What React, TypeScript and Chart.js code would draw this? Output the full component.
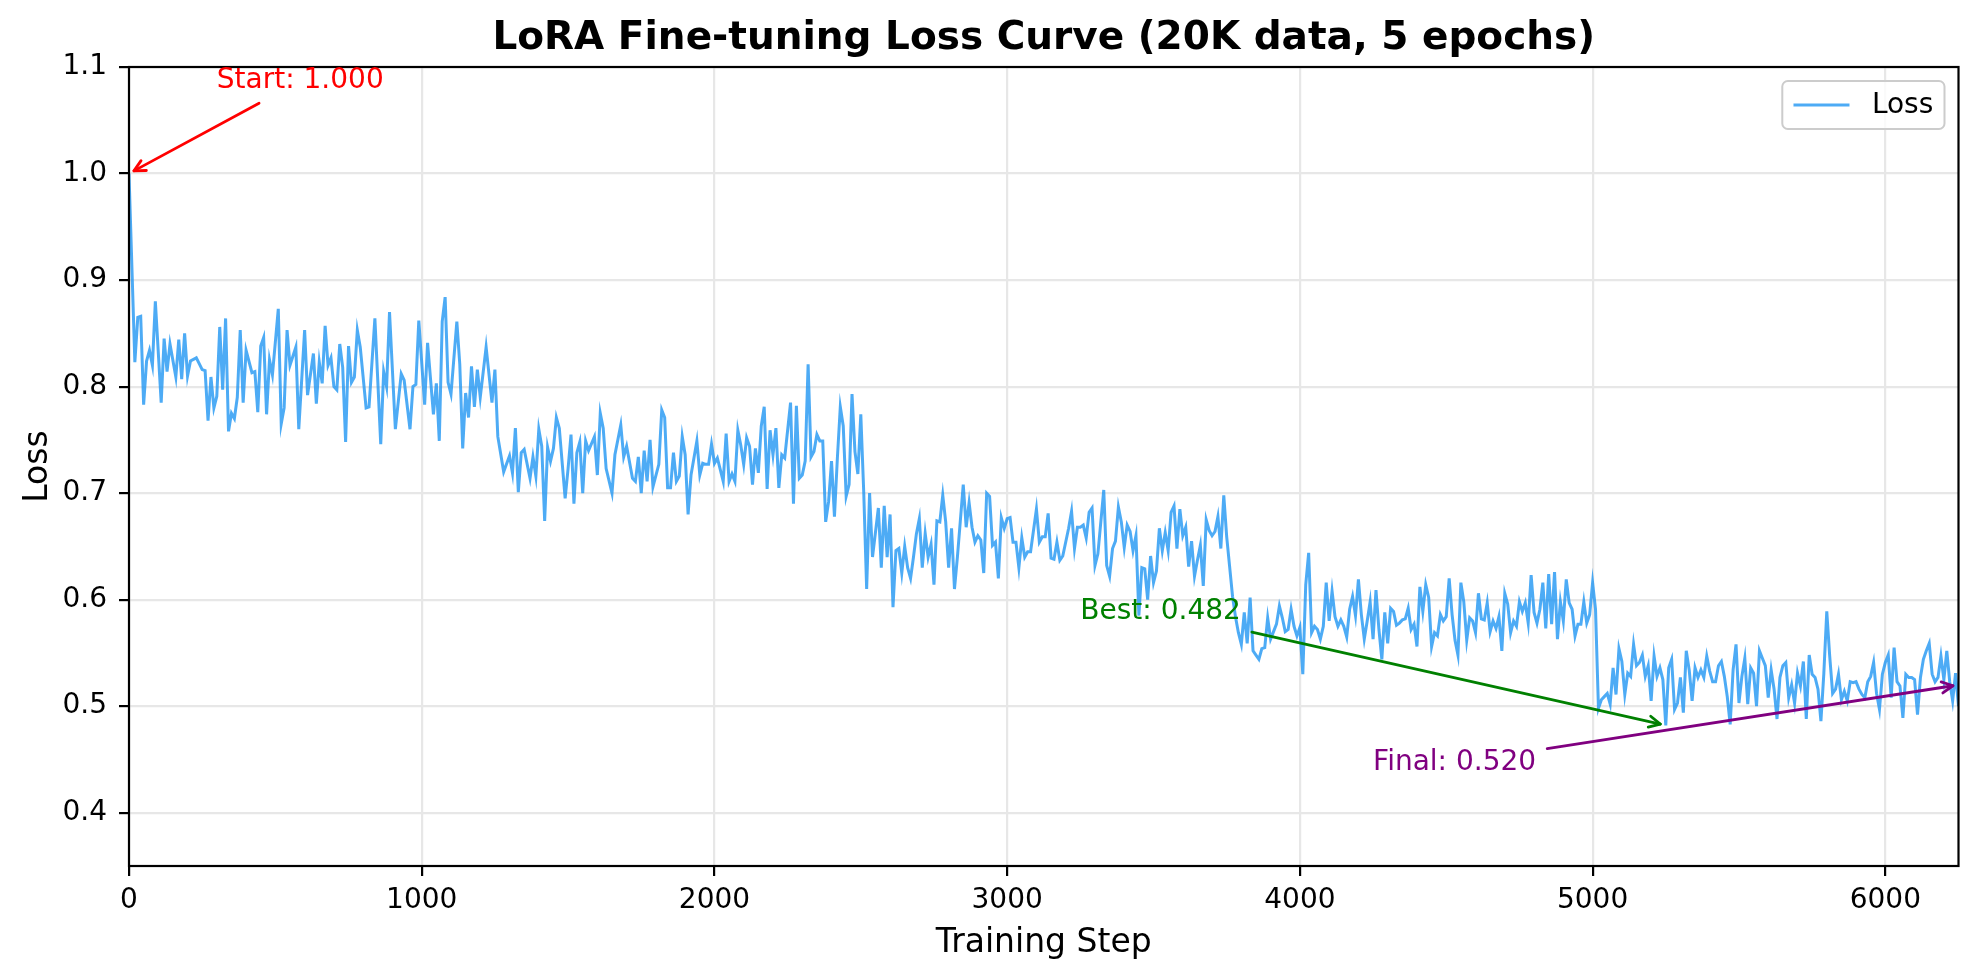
import { useEffect, useRef } from "react";
import { Chart, registerables } from "chart.js";

Chart.register(...registerables);

const FONT = '"DejaVu Sans"';
Chart.defaults.font.family = FONT;
Chart.defaults.color = "#000";

const TITLE = "LoRA Fine-tuning Loss Curve (20K data, 5 epochs)";
const X_LABEL = "Training Step";
const Y_LABEL = "Loss";
const SERIES_LABEL = "Loss";

const X_TICKS = [0, 1000, 2000, 3000, 4000, 5000, 6000];
const Y_TICKS = [0.4, 0.5, 0.6, 0.7, 0.8, 0.9, 1.0, 1.1];

// training steps
const STEPS = [
  0, 20, 30, 40, 50, 60, 70, 80, 90, 110,
  120, 130, 140, 160, 170, 180, 190, 200, 210, 230,
  250, 260, 270, 280, 290, 300, 310, 320, 330, 340,
  350, 360, 370, 380, 390, 400, 420, 430, 440, 450,
  460, 470, 480, 490, 510, 520, 530, 540, 550, 570,
  580, 600, 610, 630, 640, 650, 660, 670, 680, 690,
  700, 710, 720, 730, 740, 750, 760, 770, 780, 790,
  810, 820, 840, 860, 870, 880, 890, 910, 930, 940,
  960, 970, 980, 990,
  1010, 1020, 1040, 1050, 1060, 1070, 1080, 1090, 1100, 1120,
  1130, 1140, 1150, 1160, 1170, 1180, 1190, 1200, 1220, 1240,
  1250, 1260, 1280, 1300, 1310, 1320, 1330, 1340, 1350, 1370,
  1380, 1390, 1400, 1410, 1420, 1430, 1440, 1450, 1460, 1470,
  1490, 1500, 1510, 1520, 1530, 1540, 1550, 1560, 1570, 1590,
  1600, 1610, 1620, 1630, 1650, 1660, 1680, 1690, 1700, 1720,
  1730, 1740, 1750, 1760, 1770, 1780, 1790, 1810, 1820, 1830,
  1840, 1850, 1860, 1870, 1880, 1890, 1900, 1910, 1920, 1930,
  1940, 1950, 1960, 1970, 1980, 1990, 2000, 2010, 2030, 2040,
  2050, 2060,
  2070, 2080, 2090, 2100, 2110, 2120, 2130, 2140, 2150, 2160,
  2170, 2180, 2190, 2200, 2210, 2220, 2230, 2240, 2260, 2270,
  2280, 2290, 2300, 2310, 2320, 2330, 2340, 2350, 2360, 2370,
  2380, 2390, 2400, 2410, 2420, 2430, 2440, 2450, 2460, 2470,
  2480, 2490, 2500, 2510, 2520, 2530, 2540, 2560, 2570, 2580,
  2590, 2600, 2610, 2620, 2630, 2640, 2650, 2660, 2670, 2680,
  2690, 2700, 2710, 2720, 2730, 2740, 2750, 2760, 2770, 2780,
  2790, 2800, 2810, 2820, 2830, 2850, 2860, 2870, 2880, 2890,
  2900, 2910, 2920, 2930, 2940, 2950, 2960, 2970, 2980, 2990,
  3000, 3010, 3020, 3030, 3040, 3050, 3060, 3070, 3080, 3100,
  3110, 3120, 3130,
  3140, 3150, 3160, 3170, 3180, 3190, 3210, 3220, 3230, 3240,
  3250, 3260, 3270, 3280, 3290, 3300, 3310, 3330, 3340, 3350,
  3360, 3370, 3380, 3390, 3400, 3410, 3420, 3430, 3440, 3450,
  3460, 3470, 3480, 3490, 3500, 3510, 3520, 3530, 3540, 3550,
  3560, 3570, 3580, 3590, 3600, 3610, 3620, 3630, 3640, 3650,
  3660, 3670, 3680, 3690, 3700, 3710, 3720, 3730, 3740, 3750,
  3760,
  3770, 3780, 3790, 3800, 3810, 3820, 3830, 3840, 3850, 3860,
  3870, 3880, 3890, 3900, 3910, 3920, 3930, 3940, 3950, 3960,
  3970, 3980, 3990, 4000, 4010, 4020, 4030, 4040, 4050, 4060,
  4070, 4080, 4090, 4100, 4110, 4120, 4130, 4140, 4150, 4160,
  4170, 4180, 4190, 4200, 4210, 4220, 4230, 4240, 4250, 4260,
  4270, 4280, 4290, 4300, 4310, 4320, 4330, 4340, 4350, 4360,
  4370, 4380, 4390, 4400, 4410, 4420, 4430, 4440, 4450, 4460,
  4470, 4480, 4490, 4500, 4510, 4520, 4530, 4540, 4550, 4560,
  4570, 4580, 4590, 4600, 4610, 4620, 4630, 4640, 4650, 4660,
  4670, 4680, 4690, 4700, 4710, 4720, 4730, 4740, 4750, 4760,
  4770, 4780, 4790, 4800, 4810, 4820, 4830, 4840, 4850, 4860,
  4870, 4880, 4890, 4900, 4910, 4920, 4930, 4940, 4950, 4960,
  4970, 4980, 4990, 5000, 5010, 5020, 5030, 5040, 5050, 5060,
  5070, 5080, 5090, 5100, 5110, 5120, 5130, 5140, 5150, 5160,
  5170, 5180, 5190, 5200, 5210, 5220, 5230, 5240, 5250, 5260,
  5270, 5280, 5290, 5300, 5310, 5320, 5330, 5340, 5350, 5360,
  5370, 5380, 5390, 5400, 5410, 5420, 5430, 5440, 5450, 5460,
  5470, 5480, 5490, 5500, 5510, 5520, 5530, 5540, 5550, 5560,
  5570, 5580, 5590, 5600, 5610, 5620, 5630, 5640, 5650, 5660,
  5670, 5680, 5690, 5700, 5710, 5720, 5730, 5740, 5750, 5760,
  5770, 5780, 5790, 5800, 5810, 5820, 5830, 5840, 5850, 5860,
  5870, 5880, 5890, 5900, 5910, 5920, 5930, 5940, 5950, 5960,
  5970, 5980, 5990, 6000, 6010, 6020, 6030, 6040, 6050, 6060,
  6070, 6080, 6090, 6100, 6110, 6120, 6130, 6140, 6150, 6160,
  6170, 6180, 6190, 6200, 6210, 6220, 6230, 6240, 6250,
];

// loss at each step
const LOSS = [
  1.0, 0.823, 0.865, 0.866, 0.783, 0.824, 0.834, 0.82, 0.88, 0.785,
  0.845, 0.814, 0.84, 0.809, 0.844, 0.807, 0.85, 0.81, 0.824, 0.827,
  0.816, 0.815, 0.768, 0.809, 0.78, 0.791, 0.856, 0.797, 0.864, 0.758,
  0.775, 0.77, 0.79, 0.853, 0.785, 0.834, 0.813, 0.814, 0.776, 0.838,
  0.846, 0.774, 0.825, 0.811, 0.873, 0.765, 0.78, 0.853, 0.82, 0.837,
  0.76, 0.853, 0.792, 0.831, 0.784, 0.823, 0.803, 0.857, 0.82, 0.827,
  0.8, 0.797, 0.84, 0.818, 0.748, 0.838, 0.804, 0.809, 0.853, 0.837,
  0.78, 0.781, 0.864, 0.746, 0.814, 0.8, 0.87, 0.76, 0.812, 0.806,
  0.76, 0.8, 0.802, 0.862,
  0.783, 0.841, 0.774, 0.803, 0.749, 0.861, 0.884, 0.804, 0.793, 0.861,
  0.821, 0.742, 0.794, 0.771, 0.819, 0.781, 0.816, 0.79, 0.837, 0.785,
  0.816, 0.753, 0.72, 0.735, 0.719, 0.761, 0.701, 0.738, 0.741, 0.714,
  0.734, 0.716, 0.76, 0.744, 0.674, 0.743, 0.73, 0.742, 0.771, 0.761,
  0.695, 0.723, 0.755, 0.69, 0.738, 0.748, 0.7, 0.749, 0.74, 0.753,
  0.717, 0.775, 0.761, 0.723, 0.7, 0.736, 0.764, 0.734, 0.744, 0.714,
  0.711, 0.734, 0.7, 0.74, 0.711, 0.75, 0.706, 0.727, 0.778, 0.771,
  0.705, 0.705, 0.738, 0.711, 0.716, 0.753, 0.736, 0.68, 0.717, 0.733,
  0.749, 0.717, 0.728, 0.727, 0.727, 0.746, 0.728, 0.733, 0.711, 0.756,
  0.711, 0.718,
  0.711, 0.759, 0.745, 0.727, 0.752, 0.744, 0.708, 0.742, 0.719, 0.763,
  0.781, 0.704, 0.759, 0.736, 0.761, 0.705, 0.736, 0.733, 0.785, 0.69,
  0.782, 0.714, 0.717, 0.73, 0.821, 0.734, 0.739, 0.755, 0.749, 0.749,
  0.673, 0.692, 0.73, 0.678, 0.733, 0.781, 0.763, 0.697, 0.708, 0.793,
  0.739, 0.718, 0.774, 0.701, 0.61, 0.7, 0.64, 0.686, 0.63, 0.688,
  0.64, 0.68, 0.593, 0.646, 0.648, 0.625, 0.65, 0.63, 0.62, 0.64,
  0.662, 0.676, 0.63, 0.662, 0.64, 0.652, 0.614, 0.674, 0.673, 0.698,
  0.673, 0.63, 0.667, 0.61, 0.64, 0.708, 0.668, 0.691, 0.668, 0.654,
  0.66, 0.656, 0.625, 0.7, 0.697, 0.651, 0.654, 0.62, 0.677, 0.667,
  0.676, 0.677, 0.654, 0.654, 0.63, 0.658, 0.64, 0.645, 0.645, 0.685,
  0.654, 0.659, 0.659,
  0.681, 0.639, 0.638, 0.654, 0.637, 0.641, 0.667, 0.683, 0.648, 0.668,
  0.668, 0.67, 0.658, 0.682, 0.686, 0.632, 0.643, 0.703, 0.632, 0.622,
  0.648, 0.655, 0.687, 0.673, 0.649, 0.67, 0.664, 0.646, 0.66, 0.585,
  0.63, 0.629, 0.6, 0.641, 0.616, 0.627, 0.667, 0.646, 0.663, 0.646,
  0.682, 0.688, 0.648, 0.685, 0.66, 0.668, 0.631, 0.655, 0.622, 0.637,
  0.651, 0.613, 0.675, 0.665, 0.66, 0.664, 0.678, 0.648, 0.698, 0.659,
  0.631,
  0.603, 0.584, 0.569, 0.558, 0.588, 0.559, 0.602, 0.552, 0.548, 0.544,
  0.554, 0.555, 0.583, 0.563, 0.57, 0.577, 0.594, 0.583, 0.57, 0.572,
  0.591, 0.575, 0.566, 0.574, 0.53, 0.614, 0.644, 0.569, 0.575, 0.572,
  0.563, 0.575, 0.616, 0.58, 0.608, 0.584, 0.575, 0.581, 0.575, 0.565,
  0.591, 0.603, 0.585, 0.619, 0.586, 0.563, 0.58, 0.598, 0.563, 0.609,
  0.572, 0.544, 0.588, 0.559, 0.592, 0.589, 0.576, 0.578, 0.581, 0.582,
  0.592, 0.572, 0.577, 0.556, 0.612, 0.589, 0.614, 0.602, 0.556, 0.569,
  0.566, 0.586, 0.58, 0.584, 0.62, 0.586, 0.562, 0.548, 0.616, 0.598,
  0.562, 0.583, 0.58, 0.569, 0.606, 0.582, 0.581, 0.597, 0.57, 0.58,
  0.573, 0.584, 0.552, 0.606, 0.596, 0.569, 0.58, 0.575, 0.598, 0.589,
  0.597, 0.578, 0.623, 0.588, 0.578, 0.591, 0.616, 0.573, 0.624, 0.577,
  0.626, 0.563, 0.598, 0.58, 0.619, 0.597, 0.591, 0.566, 0.577, 0.577,
  0.598, 0.578, 0.586, 0.616, 0.591, 0.498, 0.506, 0.509, 0.512, 0.502,
  0.536, 0.511, 0.554, 0.542, 0.511, 0.531, 0.528, 0.558, 0.538, 0.541,
  0.548, 0.528, 0.538, 0.505, 0.547, 0.528, 0.536, 0.525, 0.482, 0.536,
  0.544, 0.497, 0.503, 0.527, 0.494, 0.552, 0.534, 0.505, 0.536, 0.527,
  0.534, 0.527, 0.547, 0.533, 0.523, 0.523, 0.538, 0.542, 0.528, 0.509,
  0.483, 0.534, 0.558, 0.503, 0.528, 0.545, 0.502, 0.536, 0.531, 0.5,
  0.552, 0.545, 0.538, 0.508, 0.534, 0.516, 0.488, 0.527, 0.538, 0.541,
  0.508, 0.52, 0.503, 0.531, 0.519, 0.542, 0.488, 0.548, 0.53, 0.527,
  0.516, 0.486, 0.531, 0.589, 0.547, 0.512, 0.516, 0.53, 0.506, 0.514,
  0.505, 0.523, 0.522, 0.523, 0.516, 0.511, 0.508, 0.523, 0.528, 0.541,
  0.512, 0.497, 0.53, 0.541, 0.548, 0.508, 0.555, 0.523, 0.519, 0.489,
  0.53, 0.527, 0.527, 0.525, 0.492, 0.527, 0.544, 0.552, 0.559, 0.53,
  0.523, 0.527, 0.547, 0.525, 0.552, 0.523, 0.505, 0.531, 0.5,
];

// annotations: label, point (step, loss), text anchor (step, loss), colour
const NOTE_LABELS = ["Start: 1.000", "Best: 0.482", "Final: 0.520"];
const NOTE_POINTS = [[0, 1.0], [5250, 0.482], [6250, 0.52]];
const NOTE_TEXT_AT = [[300, 1.08], [3250, 0.582], [4250, 0.44]];
const NOTE_COLORS = ["#ff0000", "#008000", "#800080"];

const LINE_COLOR = "rgba(33, 150, 243, 0.8)";
const GRID_COLOR = "#e7e7e7";
const FS = 28;

function drawArrow(ctx: CanvasRenderingContext2D, sx: number, sy: number, ex: number, ey: number) {
  const len = Math.hypot(ex - sx, ey - sy);
  const ux = (ex - sx) / len;
  const uy = (ey - sy) / len;
  const hl = 11.1;
  const hw = 5.6;
  ctx.beginPath();
  ctx.moveTo(sx, sy);
  ctx.lineTo(ex, ey);
  ctx.stroke();
  ctx.beginPath();
  ctx.moveTo(ex - ux * hl - uy * hw, ey - uy * hl + ux * hw);
  ctx.lineTo(ex, ey);
  ctx.lineTo(ex - ux * hl + uy * hw, ey - uy * hl - ux * hw);
  ctx.stroke();
}

const framePlugin = {
  id: "frame",
  afterDatasetsDraw(chart: any) {
    const { ctx, chartArea: a } = chart;
    ctx.save();
    ctx.strokeStyle = "#000";
    ctx.lineWidth = 2.2;
    ctx.strokeRect(a.left, a.top, a.right - a.left, a.bottom - a.top);
    ctx.restore();
  },
};

// title centred over the plot area, as matplotlib does
const titlePlugin = {
  id: "axTitle",
  afterDraw(chart: any) {
    const { ctx, chartArea: a } = chart;
    ctx.save();
    ctx.font = `bold 39px ${FONT}`;
    ctx.fillStyle = "#000";
    ctx.textAlign = "center";
    ctx.textBaseline = "middle";
    ctx.fillText(TITLE, (a.left + a.right) / 2, a.top - 28);
    ctx.restore();
  },
};

const notesPlugin = {
  id: "notes",
  afterDraw(chart: any) {
    const { ctx } = chart;
    const xs = chart.scales.x;
    const ys = chart.scales.y;
    ctx.save();
    ctx.font = `${FS}px ${FONT}`;
    ctx.lineWidth = 2.8;
    ctx.lineCap = "round";
    ctx.lineJoin = "round";
    NOTE_LABELS.forEach((label, i) => {
      const px = xs.getPixelForValue(NOTE_POINTS[i][0]);
      const py = ys.getPixelForValue(NOTE_POINTS[i][1]);
      const tx = xs.getPixelForValue(NOTE_TEXT_AT[i][0]);
      const ty = ys.getPixelForValue(NOTE_TEXT_AT[i][1]);
      const w = ctx.measureText(label).width;
      const pad = 5.6;
      const x0 = tx - pad;
      const x1 = tx + w + pad;
      const y0 = ty - 0.76 * FS - pad;
      const y1 = ty + 0.24 * FS + pad;
      const cx = tx + w / 2;
      const cy = ty - 0.26 * FS;
      const dx = px - cx;
      const dy = py - cy;
      const len = Math.hypot(dx, dy);
      let t = Infinity;
      if (dx !== 0) t = Math.min(t, ((dx > 0 ? x1 : x0) - cx) / dx);
      if (dy !== 0) t = Math.min(t, ((dy > 0 ? y1 : y0) - cy) / dy);
      const shrink = 5.6;
      const sx = cx + dx * t + (dx / len) * shrink;
      const sy = cy + dy * t + (dy / len) * shrink;
      const ex = px - (dx / len) * shrink;
      const ey = py - (dy / len) * shrink;
      ctx.strokeStyle = NOTE_COLORS[i];
      drawArrow(ctx, sx, sy, ex, ey);
      ctx.fillStyle = NOTE_COLORS[i];
      ctx.textAlign = "left";
      ctx.textBaseline = "alphabetic";
      ctx.fillText(label, tx, ty);
    });
    ctx.restore();
  },
};

const legendPlugin = {
  id: "mplLegend",
  afterDraw(chart: any) {
    const { ctx, chartArea: a } = chart;
    ctx.save();
    ctx.font = `${FS}px ${FONT}`;
    const tw = ctx.measureText(SERIES_LABEL).width;
    const pad = 0.4 * FS;
    const handle = 2 * FS;
    const gap = 0.8 * FS;
    const w = pad * 2 + handle + gap + tw;
    const h = 48;
    const right = a.right - 14;
    const top = a.top + 14;
    const left = right - w;
    ctx.beginPath();
    ctx.roundRect(left, top, w, h, 5.6);
    ctx.fillStyle = "rgba(255,255,255,0.8)";
    ctx.fill();
    ctx.strokeStyle = "#cccccc";
    ctx.lineWidth = 2;
    ctx.stroke();
    const cy = top + h / 2;
    ctx.strokeStyle = LINE_COLOR;
    ctx.lineWidth = 3;
    ctx.beginPath();
    ctx.moveTo(left + pad, cy);
    ctx.lineTo(left + pad + handle, cy);
    ctx.stroke();
    ctx.fillStyle = "#000";
    ctx.textAlign = "left";
    ctx.textBaseline = "middle";
    ctx.fillText(SERIES_LABEL, left + pad + handle + gap, cy + 1);
    ctx.restore();
  },
};

export default function App() {
  const canvasRef = useRef<HTMLCanvasElement>(null);
  const chartRef = useRef<Chart | null>(null);

  useEffect(() => {
    document.body.style.margin = "0";
    if (!canvasRef.current) return;
    if (chartRef.current) chartRef.current.destroy();
    const ctx = canvasRef.current.getContext("2d");
    if (!ctx) return;

    if (STEPS.length !== LOSS.length) {
      console.warn("length mismatch", STEPS.length, LOSS.length);
    }
    const points = STEPS.map((s, i) => ({ x: s, y: LOSS[i] }));

    const gridOpts = {
      color: GRID_COLOR,
      lineWidth: 2.2,
      tickColor: "#000",
      tickLength: 10,
      tickWidth: 2.2,
    };

    chartRef.current = new Chart(ctx, {
      type: "line",
      data: {
        datasets: [
          {
            label: SERIES_LABEL,
            data: points,
            borderColor: LINE_COLOR,
            borderWidth: 3,
            pointRadius: 0,
            tension: 0,
            fill: false,
          },
        ],
      },
      options: {
        responsive: true,
        maintainAspectRatio: false,
        animation: false,
        events: [],
        layout: { padding: { left: 0, right: 21.5, top: 67, bottom: 0 } },
        plugins: {
          legend: { display: false },
          tooltip: { enabled: false },
          title: { display: false },
        },
        scales: {
          x: {
            type: "linear",
            min: 0,
            max: 6250,
            afterBuildTicks: (s: any) => {
              s.ticks = X_TICKS.map((v) => ({ value: v }));
            },
            afterFit: (s: any) => {
              s.height = 113;
            },
            ticks: {
              autoSkip: false,
              maxRotation: 0,
              padding: 8,
              color: "#000",
              font: { size: FS },
              callback: (v: any) => String(v),
            },
            grid: gridOpts,
            border: { display: false },
            title: {
              display: true,
              text: X_LABEL,
              color: "#000",
              font: { size: 33 },
              padding: { top: 0, bottom: 16 },
            },
          },
          y: {
            type: "linear",
            min: 0.35,
            max: 1.1,
            afterBuildTicks: (s: any) => {
              s.ticks = Y_TICKS.map((v) => ({ value: v }));
            },
            afterFit: (s: any) => {
              s.width = 129;
            },
            ticks: {
              padding: 12,
              color: "#000",
              font: { size: FS },
              callback: (v: any) => Number(v).toFixed(1),
            },
            grid: gridOpts,
            border: { display: false },
            title: {
              display: true,
              text: Y_LABEL,
              color: "#000",
              font: { size: 33 },
              padding: { top: 19, bottom: 0 },
            },
          },
        },
      },
      plugins: [framePlugin, titlePlugin, notesPlugin, legendPlugin],
    });

    return () => {
      if (chartRef.current) {
        chartRef.current.destroy();
        chartRef.current = null;
      }
    };
  }, []);

  return (
    <div style={{ width: 1980, height: 979, position: "relative" }}>
      <canvas ref={canvasRef} />
    </div>
  );
}
